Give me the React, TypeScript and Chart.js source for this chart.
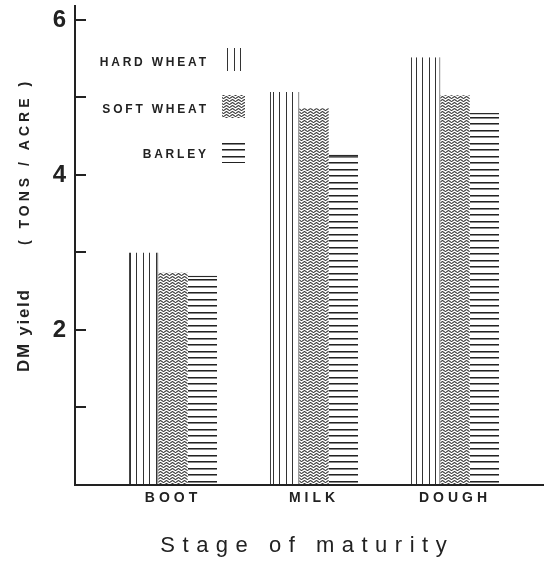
import { useEffect, useRef } from 'react';
import { Chart, registerables } from 'chart.js';

Chart.register(...registerables);

const categories = ['BOOT', 'MILK', 'DOUGH'];
const seriesNames = ['HARD WHEAT', 'SOFT WHEAT', 'BARLEY'];
const hardWheat = [3.0, 5.07, 5.52];
const softWheat = [2.74, 4.86, 5.03];
const barley = [2.7, 4.26, 4.8];
const yTickValues = [0, 1, 2, 3, 4, 5, 6];
const yLabelValues = [2, 4, 6];
const yTitleMain = 'DM yield';
const yTitleUnit = '( TONS / ACRE )';
const xTitle = 'Stage of maturity';

const FONT = '"Liberation Sans", Arial, Helvetica, sans-serif';
const INK = '#222';

function makeVertical(ctx: CanvasRenderingContext2D) {
  const c = document.createElement('canvas');
  c.width = 13;
  c.height = 4;
  const g = c.getContext('2d')!;
  g.fillStyle = '#fff';
  g.fillRect(0, 0, 13, 4);
  g.fillStyle = '#333';
  g.fillRect(0, 0, 1, 4);
  g.fillRect(6, 0, 1, 4);
  return ctx.createPattern(c, 'repeat')!;
}

function makeWavy(ctx: CanvasRenderingContext2D) {
  const c = document.createElement('canvas');
  c.width = 6;
  c.height = 3;
  const g = c.getContext('2d')!;
  g.fillStyle = '#fff';
  g.fillRect(0, 0, 6, 3);
  g.strokeStyle = '#333';
  g.lineWidth = 1.05;
  g.beginPath();
  for (let x = -0.5; x <= 6.5; x += 0.5) {
    const y = 1.5 + 0.9 * Math.sin((x / 6) * 2 * Math.PI);
    if (x === -0.5) g.moveTo(x, y);
    else g.lineTo(x, y);
  }
  g.stroke();
  return ctx.createPattern(c, 'repeat')!;
}

function makeHorizontal(ctx: CanvasRenderingContext2D) {
  const c = document.createElement('canvas');
  c.width = 4;
  c.height = 13;
  const g = c.getContext('2d')!;
  g.fillStyle = '#fff';
  g.fillRect(0, 0, 4, 13);
  g.fillStyle = '#222';
  g.fillRect(0, 0, 4, 1);
  g.fillRect(0, 6, 4, 1);
  g.fillStyle = '#888';
  g.fillRect(0, 1, 4, 1);
  g.fillRect(0, 7, 4, 1);
  return ctx.createPattern(c, 'repeat')!;
}

function drawSpaced(
  ctx: CanvasRenderingContext2D,
  text: string,
  ls: number,
  align: 'left' | 'center' | 'right',
  x: number,
  y: number
) {
  ctx.letterSpacing = ls + 'px';
  ctx.textAlign = 'left';
  const w = ctx.measureText(text).width - ls;
  let sx = x;
  if (align === 'center') sx = x - w / 2;
  if (align === 'right') sx = x - w;
  ctx.fillText(text, sx, y);
}

const annotations = {
  id: 'annotations',
  afterDatasetsDraw(chart: any) {
    chart.ctx.letterSpacing = '4px';
  },
  afterDraw(chart: any) {
    const ctx: CanvasRenderingContext2D = chart.ctx;
    const yScale = chart.scales.y;
    const area = chart.chartArea;
    ctx.save();
    ctx.letterSpacing = '0px';
    // inward tick marks
    ctx.strokeStyle = INK;
    ctx.lineWidth = 2;
    yTickValues
      .filter((v) => v > 0)
      .forEach((v) => {
        const py = Math.round(yScale.getPixelForValue(v));
        ctx.beginPath();
        ctx.moveTo(area.left, py);
        ctx.lineTo(area.left + 11, py);
        ctx.stroke();
      });

    // legend
    const legendTops = [48, 95, 140];
    ctx.fillStyle = INK;
    ctx.font = 'bold 12px ' + FONT;
    ctx.textBaseline = 'alphabetic';
    chart.data.datasets.forEach((ds: any, i: number) => {
      const top = legendTops[i];
      ctx.fillStyle = INK;
      drawSpaced(ctx, ds.label, 2.8, 'right', 206, top + 18);
      ctx.fillStyle = ds.backgroundColor;
      ctx.fillRect(222, top, 23, 23);
    });

    // y axis title (rotated)
    ctx.fillStyle = INK;
    ctx.save();
    ctx.translate(28.5, 331);
    ctx.rotate(-Math.PI / 2);
    ctx.font = 'bold 17px ' + FONT;
    drawSpaced(ctx, yTitleMain, 1.7, 'center', 0, 0);
    ctx.restore();
    ctx.save();
    ctx.translate(28.5, 163.5);
    ctx.rotate(-Math.PI / 2);
    ctx.font = 'bold 14px ' + FONT;
    drawSpaced(ctx, yTitleUnit, 4, 'center', 0, 0);
    ctx.restore();

    // x axis title
    ctx.font = '22px ' + FONT;
    drawSpaced(ctx, xTitle, 7.5, 'center', 303.5, 552);

    ctx.restore();
    ctx.letterSpacing = '0px';
  },
};

export default function App() {
  const ref = useRef<HTMLCanvasElement>(null);
  useEffect(() => {
    document.body.style.margin = '0';
    const canvas = ref.current!;
    const ctx = canvas.getContext('2d')!;
    const patterns = [makeVertical(ctx), makeWavy(ctx), makeHorizontal(ctx)];
    const borders = [
      { left: 1, right: 1, top: 0, bottom: 0 },
      0,
      { left: 0, right: 0, top: 1.5, bottom: 0 },
    ];
    const series = [hardWheat, softWheat, barley];
    const chart = new Chart(canvas, {
      type: 'bar',
      data: {
        datasets: series.map((vals, s) => ({
          label: seriesNames[s],
          data: vals.map((v, i) => ({ x: i + 1, y: v })),
          backgroundColor: patterns[s] as any,
          borderColor: '#2a2a2a',
          borderWidth: borders[s] as any,
          categoryPercentage: 0.625,
          barPercentage: 1,
        })),
      },
      options: {
        responsive: false,
        animation: false,
        layout: { padding: { top: 6, left: 0, right: 0, bottom: 0 } },
        plugins: { legend: { display: false }, tooltip: { enabled: false } },
        scales: {
          x: {
            type: 'linear',
            min: 0.305,
            max: 3.631,
            offset: false,
            grid: { display: false, drawTicks: false },
            border: { display: true, color: INK, width: 2, z: 1 },
            ticks: {
              z: 1,
              padding: 5,
              color: INK,
              autoSkip: false,
              maxRotation: 0,
              font: { family: FONT, size: 14, weight: 'bold' },
              callback: (v: any) => categories[Number(v) - 1] ?? '',
            },
            afterBuildTicks: (s: any) => {
              s.ticks = categories.map((_, i) => ({ value: i + 1 }));
            },
            afterFit: (s: any) => {
              s.height = 78;
              s.paddingLeft = 0;
              s.paddingRight = 0;
            },
          },
          y: {
            min: 0,
            max: 6.18,
            grid: { display: false, drawTicks: false },
            border: { display: true, color: INK, width: 2 },
            ticks: {
              padding: 9,
              color: INK,
              font: { family: FONT, size: 24, weight: 'bold' },
              callback: (v: any) => (yLabelValues.includes(Number(v)) ? String(v) : ''),
            },
            afterBuildTicks: (s: any) => {
              s.ticks = yTickValues.map((v) => ({ value: v }));
            },
            afterFit: (s: any) => {
              s.width = 75;
              s.paddingTop = 0;
              s.paddingBottom = 0;
            },
          },
        } as any,
      },
      plugins: [annotations],
    });
    return () => chart.destroy();
  }, []);
  return (
    <div style={{ width: 544, height: 563 }}>
      <canvas ref={ref} width={544} height={563} style={{ display: 'block' }} />
    </div>
  );
}
